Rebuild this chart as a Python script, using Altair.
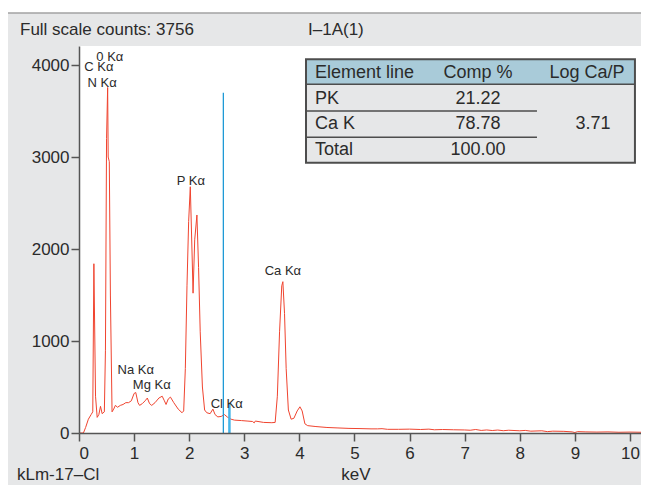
import altair as alt
import pandas as pd

# ---------------- data ----------------
energy = [0.00, 0.08, 0.12, 0.17, 0.22, 0.25, 0.27, 0.30, 0.33, 0.36, 0.39, 0.42, 0.46, 0.48,
          0.50, 0.52, 0.53, 0.55, 0.57, 0.60, 0.63, 0.66, 0.70, 0.75, 0.80, 0.85, 0.90, 0.95,
          1.00, 1.03, 1.07, 1.10, 1.15, 1.20, 1.24, 1.28, 1.32, 1.38, 1.45, 1.51, 1.55, 1.58,
          1.62, 1.66, 1.72, 1.80, 1.87, 1.90, 1.93, 1.96, 1.99, 2.02, 2.05, 2.07, 2.10, 2.14,
          2.17, 2.20, 2.24, 2.28, 2.32, 2.38, 2.43, 2.47, 2.52, 2.58, 2.64, 2.70, 2.76, 2.82,
          2.95, 3.05, 3.15, 3.18, 3.20, 3.35, 3.50, 3.56, 3.60, 3.64, 3.68, 3.70, 3.73, 3.76,
          3.80, 3.85, 3.90, 3.96, 4.01, 4.05, 4.10, 4.15, 4.30, 4.50, 4.70, 4.90, 5.10, 5.30,
          5.42, 5.50, 5.60, 5.80, 6.00, 6.20, 6.35, 6.45, 6.60, 6.80, 7.00, 7.10, 7.20, 7.30,
          7.40, 7.50, 7.60, 7.70, 7.80, 8.00, 8.10, 8.20, 8.40, 8.50, 8.60, 8.80, 8.95, 9.00,
          9.05, 9.20, 9.40, 9.60, 9.80, 10.00, 10.20]
counts = [0, 0, 60, 150, 200, 230, 1840, 400, 170, 200, 290, 210, 230, 900,
          3200, 3756, 3000, 2950, 1500, 230, 260, 300, 280, 300, 310, 330, 330, 350,
          430, 440, 330, 300, 320, 350, 380, 320, 300, 330, 380, 400, 350, 310,
          370, 390, 330, 260, 220, 240, 700, 1600, 2300, 2677, 2000, 1520, 2100, 2370,
          1800, 1100, 500, 250, 220, 210, 260, 200, 175, 180, 200, 170, 150, 140,
          135, 130, 125, 110, 130, 115, 112, 115, 400, 1100, 1600, 1645, 1300, 700,
          250, 150, 160, 240, 285, 240, 100, 80, 70, 60, 55, 50, 48, 45,
          45, 47, 40, 40, 42, 38, 42, 35, 38, 35, 33, 30, 38, 28,
          33, 27, 32, 25, 30, 24, 28, 20, 24, 15, 20, 18, 12, 5,
          15, 12, 10, 12, 8, 10, 8]

peak_labels = ["0 K\u03b1", "C K\u03b1", "N K\u03b1", "P K\u03b1", "Ca K\u03b1",
               "Na K\u03b1", "Mg K\u03b1", "Cl K\u03b1"]
peak_label_kev = [0.56, 0.36, 0.42, 2.03, 3.70, 1.03, 1.32, 2.68]
peak_label_cnt = [4090, 3975, 3810, 2739, 1761, 685, 522, 315]

marker_kev = [2.62, 2.73]
marker_top = [3700, 320]

x_ticks = [0, 1, 2, 3, 4, 5, 6, 7, 8, 9, 10]
y_ticks = [0, 1000, 2000, 3000, 4000]

header_text = "Full scale counts: 3756"
sample_text = "I\u20131A(1)"
footer_left = "kLm-17\u2013Cl"
x_title = "keV"

# table contents
table_header = ["Element line", "Comp %", "Log Ca/P"]
table_elements = ["PK", "Ca K", "Total"]
table_comp = ["21.22", "78.78", "100.00"]
table_log = ["3.71"]

# table frame in data units (keV, counts)
tbl_x = [4.12, 10.09]
tbl_mid_x = 8.312
tbl_y = [4062, 3791, 3500, 3214, 2938]
col_x = [4.283, 7.241, 9.22]
log_x = 9.328
row_y = [3917, 3628, 3359, 3077]

# ---------------- chart ----------------
W, H = 562, 387
FONT = "Liberation Sans"
X = alt.Scale(domain=[0, 10.2], nice=False, zero=False)
Y = alt.Scale(domain=[0, 4207], nice=False)
AX = alt.Axis(values=x_ticks, format="d", title=None, grid=False,
              tickSize=8, tickWidth=1.5, tickColor="#555", domainColor="#555",
              domainWidth=1.5, labelFontSize=17, labelFont=FONT,
              labelColor="#2b2b2b", labelPadding=4, zindex=1)
AY = alt.Axis(values=y_ticks, format="d", title=None, grid=False,
              tickSize=8, tickWidth=1.5, tickColor="#555", domainColor="#555",
              domainWidth=1.5, labelFontSize=17, labelFont=FONT,
              labelColor="#2b2b2b", labelPadding=2, zindex=1)


def xe(f):
    return alt.X(f, type="quantitative", scale=X, axis=AX)


def ye(f):
    return alt.Y(f, type="quantitative", scale=Y, axis=AY)


one = pd.DataFrame({"a": [0]})

panel = alt.Chart(one).mark_rect(fill="#e6e7e8", stroke="#a3a3a3", strokeWidth=1.5,
                                 clip=False).encode(
    x=alt.value(-74), x2=alt.value(600), y=alt.value(-33), y2=alt.value(470))
plot_bg = alt.Chart(one).mark_rect(fill="white").encode(
    x=alt.value(0), x2=alt.value(W), y=alt.value(0), y2=alt.value(H))

spec = pd.DataFrame({"keV": energy, "counts": counts})
line = alt.Chart(spec).mark_line(color="#f0442f", strokeWidth=1, clip=True).encode(
    x=xe("keV"), y=ye("counts"))

m1 = pd.DataFrame({"keV": [marker_kev[0]], "top": [marker_top[0]], "base": [0]})
m2 = pd.DataFrame({"keV": [marker_kev[1]], "top": [marker_top[1]], "base": [0]})
rule1 = alt.Chart(m1).mark_rule(color="#1f9ad6", strokeWidth=1.3).encode(
    x=xe("keV"), y=ye("base"), y2="top:Q")
rule2 = alt.Chart(m2).mark_rule(color="#45b5e8", strokeWidth=2.5).encode(
    x=xe("keV"), y=ye("base"), y2="top:Q")

labels_df = pd.DataFrame({"t": peak_labels, "keV": peak_label_kev, "c": peak_label_cnt})
peak_text = alt.Chart(labels_df).mark_text(fontSize=13, font=FONT, color="#2b2b2b",
                                           baseline="middle").encode(
    x=xe("keV"), y=ye("c"), text="t:N")

# table
hdr_rect = alt.Chart(pd.DataFrame({"x": [tbl_x[0]], "x2": [tbl_x[1]],
                                   "y": [tbl_y[1]], "y2": [tbl_y[0]]})).mark_rect(
    fill="#a9cbd9").encode(x=xe("x"), x2="x2:Q", y=ye("y"), y2="y2:Q")
body_rect = alt.Chart(pd.DataFrame({"x": [tbl_x[0]], "x2": [tbl_x[1]],
                                    "y": [tbl_y[4]], "y2": [tbl_y[1]]})).mark_rect(
    fill="#e6e7e8").encode(x=xe("x"), x2="x2:Q", y=ye("y"), y2="y2:Q")
border = alt.Chart(pd.DataFrame({"x": [tbl_x[0]], "x2": [tbl_x[1]],
                                 "y": [tbl_y[4]], "y2": [tbl_y[0]]})).mark_rect(
    fill=None, stroke="#4d4d4d", strokeWidth=2).encode(
    x=xe("x"), x2="x2:Q", y=ye("y"), y2="y2:Q")
sep_df = pd.DataFrame({"x": [tbl_x[0], tbl_x[0], tbl_x[0]],
                       "x2": [tbl_x[1], tbl_mid_x, tbl_mid_x],
                       "y": [tbl_y[1], tbl_y[2], tbl_y[3]]})
seps = alt.Chart(sep_df).mark_rule(color="#4d4d4d", strokeWidth=1.5).encode(
    x=xe("x"), x2="x2:Q", y=ye("y"))

hdr_df = pd.DataFrame({"t": table_header, "x": col_x, "y": [row_y[0]] * 3})
hdr_left = alt.Chart(hdr_df.iloc[[0]]).mark_text(fontSize=18, font=FONT, color="#2b2b2b",
                                                 align="left").encode(
    x=xe("x"), y=ye("y"), text="t:N")
hdr_ctr = alt.Chart(hdr_df.iloc[[1, 2]]).mark_text(fontSize=18, font=FONT, color="#2b2b2b",
                                                   align="center").encode(
    x=xe("x"), y=ye("y"), text="t:N")
el_df = pd.DataFrame({"t": table_elements, "x": [col_x[0]] * 3, "y": row_y[1:]})
el_text = alt.Chart(el_df).mark_text(fontSize=18, font=FONT, color="#2b2b2b",
                                     align="left").encode(
    x=xe("x"), y=ye("y"), text="t:N")
comp_df = pd.DataFrame({"t": table_comp, "x": [col_x[1]] * 3, "y": row_y[1:]})
comp_text = alt.Chart(comp_df).mark_text(fontSize=18, font=FONT, color="#2b2b2b",
                                         align="center").encode(
    x=xe("x"), y=ye("y"), text="t:N")
log_df = pd.DataFrame({"t": table_log, "x": [log_x], "y": [row_y[2]]})
log_text = alt.Chart(log_df).mark_text(fontSize=18, font=FONT, color="#2b2b2b",
                                       align="center").encode(
    x=xe("x"), y=ye("y"), text="t:N")


# surrounding annotations
def note(txt, px, py, align="left", size=16):
    return alt.Chart(pd.DataFrame({"t": [txt]})).mark_text(
        fontSize=size, font=FONT, color="#2b2b2b", align=align, baseline="middle",
        clip=False).encode(x=alt.value(px), y=alt.value(py), text="t:N")


n1 = note(header_text, -59, -16, size=17)
n2 = note(sample_text, 229, -16, size=17)
n3 = note(footer_left, -62, 429, size=17)
n4 = note(x_title, 277, 429, align="center", size=17)

chart = alt.layer(panel, plot_bg, hdr_rect, body_rect, seps, border,
                  hdr_left, hdr_ctr, el_text, comp_text, log_text,
                  line, rule1, rule2, peak_text, n1, n2, n3, n4).properties(
    width=W, height=H,
    padding={"left": 71, "top": 38, "right": 0, "bottom": 52},
    autosize=alt.AutoSizeParams(type="none"),
    background="white",
).configure_view(stroke=None, fill="white")

chart.save("out.html", embed_options={"renderer": "svg", "actions": False})
